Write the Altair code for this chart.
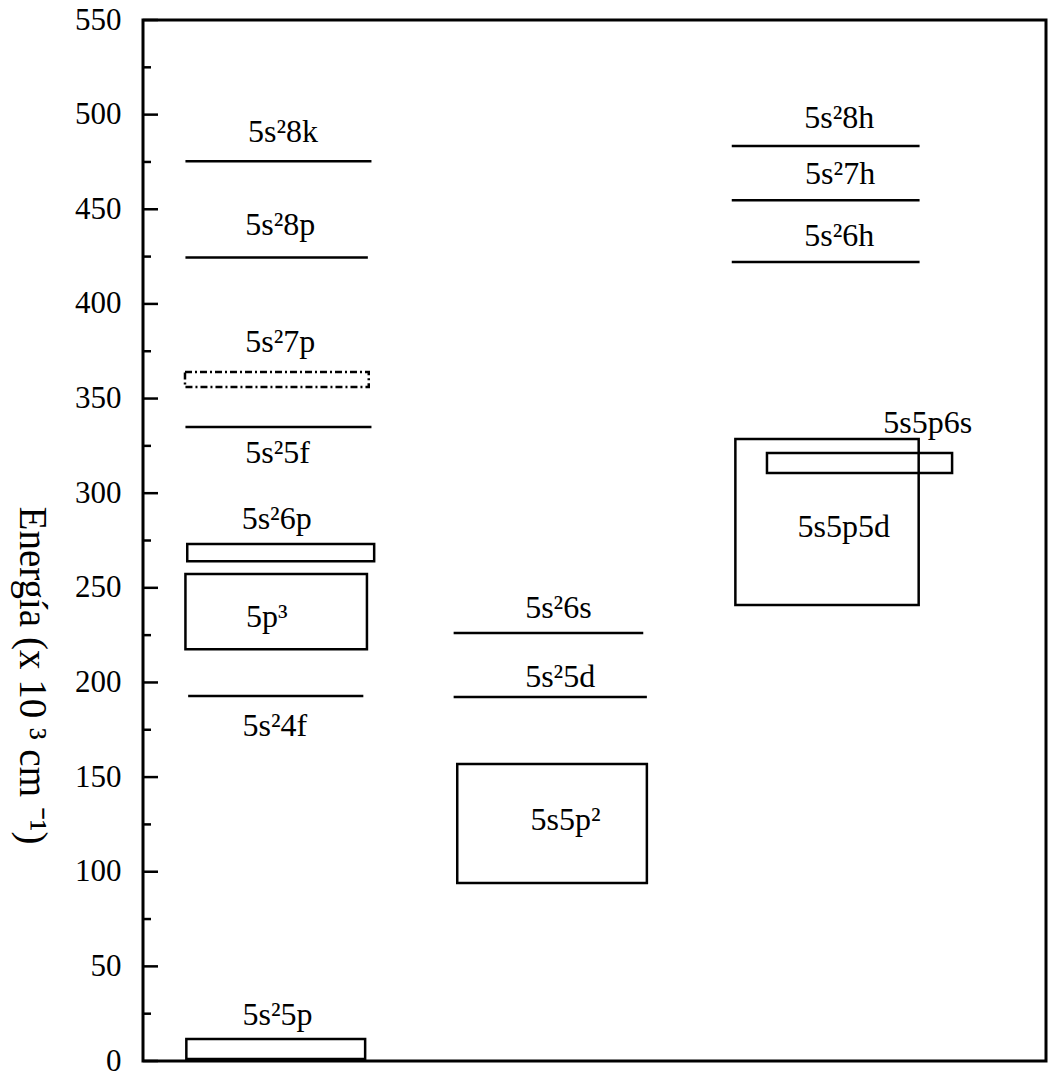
import altair as alt
import pandas as pd

# ---- data ----
# horizontal levels (single lines)
line_names = ["5s²8k", "5s²8p", "5s²5f", "5s²4f", "5s²6s", "5s²5d", "5s²8h", "5s²7h", "5s²6h"]
line_y = [475.4, 424.5, 335.0, 192.8, 226.1, 192.3, 483.4, 454.8, 422.1]
line_x1 = [4.7, 4.7, 4.7, 5.0, 34.4, 34.4, 65.2, 65.2, 65.2]
line_x2 = [25.3, 24.9, 25.3, 24.4, 55.4, 55.8, 86.0, 86.0, 86.0]

# configuration bands (boxes)
box_names = ["5s²5p", "5p³", "5s²6p", "5s5p²", "5s5p5d", "5s5p6s"]
box_y1 = [1.0, 217.6, 264.1, 94.0, 240.9, 310.6]
box_y2 = [11.6, 257.3, 273.1, 156.9, 328.6, 321.2]
box_x1 = [4.8, 4.7, 4.9, 34.8, 65.6, 69.1]
box_x2 = [24.6, 24.8, 25.6, 55.8, 85.9, 89.6]

# dash-dotted band
dash_names = ["5s²7p"]
dash_y1 = [356.1]
dash_y2 = [364.0]
dash_x1 = [4.65]
dash_x2 = [25.0]

# labels
label_text = ["5s²8k", "5s²8p", "5s²7p", "5s²5f", "5s²6p", "5p³", "5s²4f", "5s²5p",
              "5s²6s", "5s²5d", "5s5p²",
              "5s²8h", "5s²7h", "5s²6h", "5s5p6s", "5s5p5d"]
label_x = [15.5, 15.2, 15.2, 14.9, 14.8, 13.7, 14.6, 14.9,
           46.0, 46.2, 46.8,
           77.1, 77.2, 77.1, 86.9, 77.6]
label_y = [491.0, 441.6, 379.8, 321.0, 286.3, 234.5, 177.0, 24.3,
           239.6, 203.0, 127.3,
           498.0, 468.6, 436.0, 337.0, 282.0]

major_ticks = list(range(0, 551, 50))
minor_ticks = list(range(25, 550, 50))

FONT = "Liberation Serif"

lines_df = pd.DataFrame({"name": line_names, "y": line_y, "x1": line_x1, "x2": line_x2})
boxes_df = pd.DataFrame({"name": box_names, "y1": box_y1, "y2": box_y2, "x1": box_x1, "x2": box_x2})
dash_df = pd.DataFrame({"name": dash_names, "y1": dash_y1, "y2": dash_y2, "x1": dash_x1, "x2": dash_x2})
labels_df = pd.DataFrame({"text": label_text, "x": label_x, "y": label_y})
major_df = pd.DataFrame({"v": major_ticks})
minor_df = pd.DataFrame({"v": minor_ticks})

xscale = alt.Scale(domain=[0, 100], nice=False, zero=False)
yscale = alt.Scale(domain=[0, 550], nice=False, zero=False)

yaxis = alt.Axis(
    values=major_ticks,
    title="Energía (x 10 ³ cm ⁻¹)",
    titleAngle=90, titleAlign="center", titleBaseline="middle",
    titleX=-112, titleY=655,
    labelPadding=22,
    ticks=False, tickSize=0, domain=False, grid=False,
)

base_lines = alt.Chart(lines_df).mark_rule(color="black", strokeWidth=2.5).encode(
    x=alt.X("x1:Q", scale=xscale, axis=None),
    x2="x2:Q",
    y=alt.Y("y:Q", scale=yscale, axis=yaxis),
)

boxes = alt.Chart(boxes_df).mark_rect(fillOpacity=0, stroke="black", strokeWidth=2.5).encode(
    x=alt.X("x1:Q", scale=xscale), x2="x2:Q",
    y=alt.Y("y1:Q", scale=yscale), y2="y2:Q",
)

dashed = alt.Chart(dash_df).mark_rect(
    fillOpacity=0, stroke="black", strokeWidth=2.5, strokeDash=[7, 3, 2, 3]
).encode(
    x=alt.X("x1:Q", scale=xscale), x2="x2:Q",
    y=alt.Y("y1:Q", scale=yscale), y2="y2:Q",
)

labels = alt.Chart(labels_df).mark_text(
    font=FONT, fontSize=32, color="black", align="center", baseline="middle"
).encode(
    x=alt.X("x:Q", scale=xscale),
    y=alt.Y("y:Q", scale=yscale),
    text="text:N",
)

major = alt.Chart(major_df).mark_rule(color="black", strokeWidth=2.5).encode(
    x=alt.value(0), x2=alt.value(15), y=alt.Y("v:Q", scale=yscale)
)
minor = alt.Chart(minor_df).mark_rule(color="black", strokeWidth=2.5).encode(
    x=alt.value(0), x2=alt.value(8), y=alt.Y("v:Q", scale=yscale)
)

chart = alt.layer(base_lines, boxes, dashed, labels, major, minor).properties(
    width=903,
    height=1041,
    autosize=alt.AutoSizeParams(type="none"),
    padding={"left": 143, "top": 20, "right": 4, "bottom": 17},
    background="white",
).configure_view(
    stroke="black", strokeWidth=3
).configure_axis(
    labelFont=FONT, labelFontSize=31, labelColor="black",
    titleFont=FONT, titleFontSize=39, titleFontWeight="normal", titleColor="black",
).configure_text(font=FONT)

chart.save("out.html", embed_options={"renderer": "svg", "actions": False})
